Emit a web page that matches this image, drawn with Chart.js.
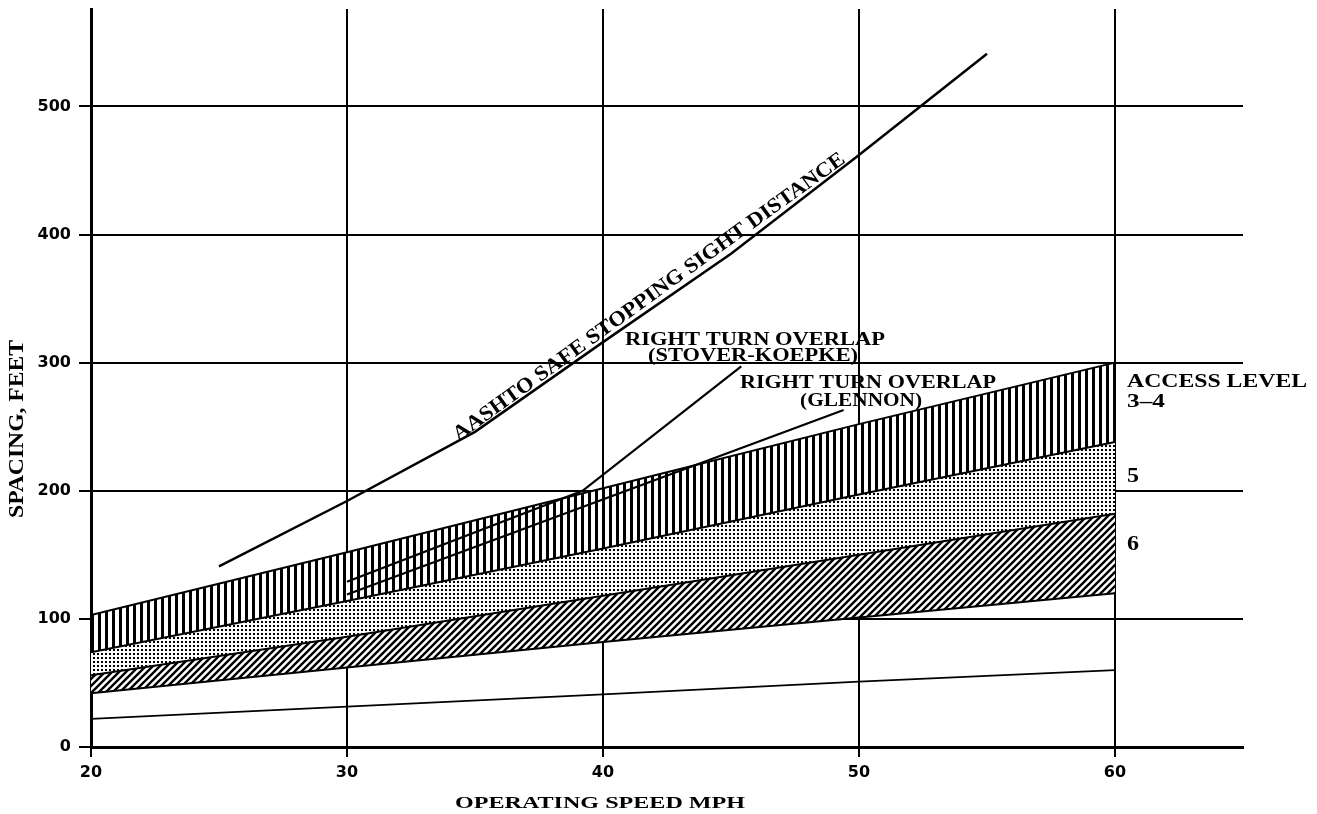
<!DOCTYPE html>
<html>
<head>
<meta charset="utf-8">
<script src="https://cdn.jsdelivr.net/npm/chart.js@4"></script>
<style>
  html, body { margin: 0; padding: 0; background: #fff; }
  #wrap { width: 1317px; height: 814px; position: relative; }
</style>
</head>
<body>
<div id="wrap"><canvas id="chart"></canvas></div>
<script>
// spacing vs operating speed

const SPEEDS = [20, 30, 40, 50, 60];
const LEVEL6_LOW = [42, 62, 82, 101, 120];
const LEVEL6_HIGH = [56, 86, 118, 150, 182];
const LEVEL5_HIGH = [74, 114, 155, 197, 238];
const LEVEL34_HIGH = [103, 152, 202, 252, 300];
const BOTTOM_LINE = [22, 31.5, 41, 51, 60];

const AASHTO_X = [25, 30, 35, 40, 45, 50, 55];
const AASHTO_Y = [141, 192, 246, 316, 385, 462, 541];
const SK_X = [30, 39.2, 45.4];
const SK_Y = [129, 200, 297];
const GLENNON_X = [30, 49.4];
const GLENNON_Y = [119, 263];

const X_TICKS = [20, 30, 40, 50, 60];
const Y_TICKS = [0, 100, 200, 300, 400, 500];

const pts = (xs, ys) => xs.map((x, i) => ({ x, y: ys[i] }));

const canvas = document.getElementById('chart');
const mainCtx = canvas.getContext('2d');

// fill patterns for the three access-level bands
function tile(size, draw) {
  const c = document.createElement('canvas');
  c.width = size; c.height = size;
  const g = c.getContext('2d');
  g.fillStyle = '#fff';
  g.fillRect(0, 0, size, size);
  g.fillStyle = '#000';
  g.strokeStyle = '#000';
  draw(g, size);
  return mainCtx.createPattern(c, 'repeat');
}
const vStripes = tile(7, (g, s) => g.fillRect(0, 0, 3, s));
const dots = tile(4, g => g.fillRect(1, 1, 2, 2));
const diag = tile(7, (g, s) => {
  g.lineWidth = 2.4;
  g.beginPath();
  g.moveTo(0, s); g.lineTo(s, 0);
  g.moveTo(-1, 1); g.lineTo(1, -1);
  g.moveTo(s - 1, s + 1); g.lineTo(s + 1, s - 1);
  g.stroke();
});

const band = (data, fill, bg) => ({
  data: pts(SPEEDS, data), fill, backgroundColor: bg,
  borderColor: '#000', borderWidth: 2, pointRadius: 0, order: 2,
});
const curve = (xs, ys, w) => ({
  data: pts(xs, ys), fill: false, borderColor: '#000',
  borderWidth: w, pointRadius: 0, order: 1,
});

// text on the chart, placed in data units
const LABELS = [
  { text: 'RIGHT TURN OVERLAP', x: 40.86, y: 314, w: 260 },
  { text: '(STOVER-KOEPKE)', x: 41.76, y: 301.5, w: 210 },
  { text: 'RIGHT TURN OVERLAP', x: 45.35, y: 280, w: 256 },
  { text: '(GLENNON)', x: 47.7, y: 266, w: 122 },
  { text: 'ACCESS LEVEL', x: 60.47, y: 281, w: 180 },
  { text: '3–4', x: 60.47, y: 265.5, w: 38 },
  { text: '5', x: 60.47, y: 207, size: 21, w: 12 },
  { text: '6', x: 60.47, y: 154, size: 21, w: 12 },
];
const SERIF = '"Liberation Serif", "DejaVu Serif", serif';

function drawText(ctx, text, px, py, size, width, angle, align) {
  ctx.save();
  ctx.translate(px, py);
  if (angle) ctx.rotate(angle);
  ctx.font = `bold ${size}px ${SERIF}`;
  const w = ctx.measureText(text).width;
  if (width) ctx.scale(width / w, 1);
  ctx.fillStyle = '#000';
  ctx.textAlign = align || 'left';
  ctx.textBaseline = 'alphabetic';
  ctx.fillText(text, 0, 0);
  ctx.restore();
}

const annotations = {
  id: 'annotations',
  afterDraw(chart) {
    const { ctx, scales: { x, y } } = chart;
    LABELS.forEach(l => drawText(ctx, l.text, x.getPixelForValue(l.x), y.getPixelForValue(l.y), l.size || 19, l.w));

    // label riding along the stopping sight distance curve
    const x0 = x.getPixelForValue(AASHTO_X[2]), y0 = y.getPixelForValue(AASHTO_Y[2]);
    const x1 = x.getPixelForValue(AASHTO_X[5]), y1 = y.getPixelForValue(AASHTO_Y[5]);
    const ang = Math.atan2(y1 - y0, x1 - x0);
    const sx = x.getPixelForValue(34.4);
    const sy = y0 + (sx - x0) * Math.tan(ang);
    drawText(ctx, 'AASHTO SAFE STOPPING SIGHT DISTANCE',
      sx + 2 * Math.sin(ang), sy - 2 * Math.cos(ang), 21, 478, ang);

    // axis titles
    drawText(ctx, 'SPACING, FEET', 22.5, 429, 20, 178, -Math.PI / 2, 'center');
    drawText(ctx, 'OPERATING SPEED MPH', 455, 808, 17, 290);
  },
};

const tickFont = { family: '"DejaVu Sans", sans-serif', size: 16, weight: 'bold' };

new Chart(canvas, {
  type: 'line',
  data: {
    datasets: [
      band(LEVEL6_LOW, false, 'transparent'),
      band(LEVEL6_HIGH, 0, diag),
      band(LEVEL5_HIGH, 1, dots),
      band(LEVEL34_HIGH, 2, vStripes),
      curve(SPEEDS, BOTTOM_LINE, 1.8),
      curve(AASHTO_X, AASHTO_Y, 2.5),
      curve(SK_X, SK_Y, 2.2),
      curve(GLENNON_X, GLENNON_Y, 2.2),
    ],
  },
  options: {
    responsive: true,
    maintainAspectRatio: false,
    animation: false,
    devicePixelRatio: 1,
    layout: { padding: { left: 0, right: 74, top: 9, bottom: 0 } },
    elements: { line: { tension: 0 } },
    plugins: { legend: { display: false }, tooltip: { enabled: false } },
    scales: {
      x: {
        type: 'linear', min: 20, max: 65, z: 1,
        afterBuildTicks: s => { s.ticks = X_TICKS.map(v => ({ value: v })); },
        afterFit: s => { s.height = 67; s.paddingLeft = 0; s.paddingRight = 0; },
        grid: { color: '#000', lineWidth: 2, tickLength: 10, tickColor: '#000' },
        border: { display: true, color: '#000', width: 3 },
        ticks: { color: '#000', font: tickFont, padding: 6, maxRotation: 0 },
      },
      y: {
        type: 'linear', min: 0, max: 576, z: 1,
        afterBuildTicks: s => { s.ticks = Y_TICKS.map(v => ({ value: v })); },
        afterFit: s => { s.width = 91; s.paddingTop = 0; s.paddingBottom = 0; },
        grid: { color: '#000', lineWidth: 2, tickLength: 12, tickColor: '#000' },
        border: { display: true, color: '#000', width: 3 },
        ticks: { color: '#000', font: tickFont, padding: 8 },
      },
    },
  },
  plugins: [annotations],
});
</script>
</body>
</html>
